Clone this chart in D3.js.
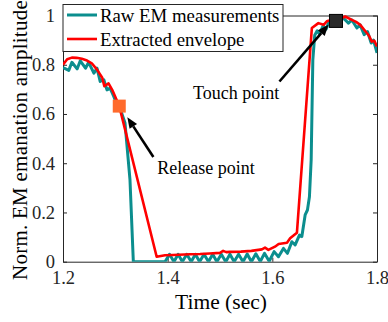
<!DOCTYPE html>
<html lang="en">
<head>
<meta charset="UTF-8">
<title>EM envelope</title>
<style>
    body { margin: 0; background: #fff; }
</style>
</head>
<body>
<svg id="chart" width="388" height="322"></svg>
<script src="https://cdn.jsdelivr.net/npm/d3@7"></script>
<script>
// raw EM measurements (time in sec, normalized amplitude)
const rawT = [1.200, 1.211, 1.217, 1.227, 1.233, 1.243, 1.249, 1.259, 1.265, 1.271, 1.278, 1.284, 1.290, 1.297, 1.300,
    1.3075, 1.3185, 1.328, 1.3344, 1.395,
    1.4035, 1.412, 1.420, 1.428, 1.4365, 1.445, 1.453, 1.461, 1.4695, 1.478, 1.486, 1.494, 1.5025, 1.511,
    1.519, 1.527, 1.5355, 1.544, 1.552, 1.560, 1.5685, 1.577, 1.585, 1.594,
    1.6034, 1.6117, 1.6212, 1.6289, 1.6373, 1.6436, 1.6518, 1.6564, 1.6627, 1.6671, 1.6709, 1.6742, 1.6774,
    1.681, 1.6857, 1.690, 1.697, 1.703, 1.708, 1.715, 1.722, 1.728, 1.736, 1.7455, 1.752, 1.7616, 1.7677,
    1.7755, 1.7818, 1.7889, 1.7933, 1.800];
const rawV = [0.788, 0.777, 0.810, 0.783, 0.816, 0.786, 0.810, 0.766, 0.786, 0.732, 0.739, 0.698, 0.705, 0.671, 0.655,
    0.632, 0.563, 0.332, 0.000, 0.000,
    0.030, 0.000, 0.030, 0.000, 0.030, 0.000, 0.030, 0.000, 0.030, 0.000, 0.030, 0.000, 0.030, 0.000,
    0.030, 0.000, 0.030, 0.000, 0.031, 0.000, 0.032, 0.001, 0.034, 0.002,
    0.041, 0.020, 0.054, 0.034, 0.081, 0.068, 0.108, 0.102, 0.190, 0.210, 0.264, 0.413, 0.820,
    0.920, 0.938, 0.925, 0.958, 0.945, 0.974, 0.965, 0.985, 0.975, 0.989, 0.969, 0.982, 0.949, 0.962,
    0.922, 0.935, 0.888, 0.900, 0.848];

// extracted envelope
const envT = [1.200, 1.208, 1.217, 1.226, 1.236, 1.246, 1.255, 1.265, 1.275, 1.279, 1.287, 1.294, 1.3075,
    1.379, 1.395, 1.410, 1.443, 1.462, 1.480, 1.500, 1.506, 1.512, 1.519, 1.540, 1.560, 1.580, 1.586, 1.5925,
    1.605, 1.612, 1.628, 1.634, 1.647, 1.6755, 1.688, 1.698, 1.705, 1.7216, 1.733, 1.739, 1.752, 1.760,
    1.768, 1.774, 1.781, 1.785, 1.790, 1.795, 1.800];
const envV = [0.800, 0.822, 0.829, 0.828, 0.824, 0.817, 0.806, 0.780, 0.747, 0.713, 0.724, 0.698, 0.632,
    0.020, 0.026, 0.027, 0.030, 0.031, 0.033, 0.036, 0.044, 0.039, 0.040, 0.041, 0.044, 0.050, 0.057, 0.048,
    0.061, 0.072, 0.077, 0.095, 0.118, 0.949, 0.969, 0.962, 0.978, 0.985, 0.990, 0.996, 0.982, 0.974,
    0.962, 0.946, 0.928, 0.917, 0.894, 0.897, 0.874];

const xTicks = [1.2, 1.4, 1.6, 1.8];
const yTicks = [0, 0.2, 0.4, 0.6, 0.8, 1];
const seriesNames = ["Raw EM measurements", "Extracted envelope"];
const seriesColors = ["#0b8e8e", "#ff0000"];

// markers: release / touch
const markT = [1.3075, 1.7216];
const markV = [0.632, 0.978];
const markColors = ["#ff6a2c", "#2a2a2a"];

// annotations: label, text anchor point, arrow tail, arrow tip
const noteText = ["Release point", "Touch point"];
const noteAt = [[1.3803, 0.355], [1.4486, 0.659]];
const arrowFrom = [[1.3727, 0.425], [1.6136, 0.732]];
const arrowTo = [[1.3229, 0.587], [1.7073, 0.962]];

const FONT = "Liberation Serif";
const svg = d3.select("#chart");
const pLeft = 63, pRight = 377, pTop = 15.5, pBottom = 261.7;

const x = d3.scaleLinear().domain([1.2, 1.8]).range([pLeft, pRight]);
const y = d3.scaleLinear().domain([0, 1]).range([pBottom, pTop]);

svg.append("defs").append("clipPath").attr("id", "clip")
    .append("rect").attr("x", pLeft).attr("y", pTop - 2).attr("width", pRight - pLeft).attr("height", pBottom - pTop + 2);

// axes, ticks inside, box on
function styleAxis(g) {
    g.attr("font-family", FONT).attr("font-size", 18.5);
    g.selectAll("path.domain").attr("stroke", "#262626").attr("stroke-width", 1);
    g.selectAll(".tick line").attr("stroke", "#262626").attr("stroke-width", 1);
    g.selectAll("text").attr("fill", "#262626");
}

svg.append("g").attr("transform", `translate(0,${pBottom})`)
    .call(d3.axisBottom(x).tickValues(xTicks).tickFormat(d3.format(".1f")).tickSize(-4).tickSizeOuter(0).tickPadding(9))
    .call(styleAxis);
svg.append("g").attr("transform", `translate(0,${pTop})`)
    .call(d3.axisTop(x).tickValues(xTicks).tickFormat("").tickSize(-4).tickSizeOuter(0))
    .call(styleAxis);
svg.append("g").attr("transform", `translate(${pLeft},0)`)
    .call(d3.axisLeft(y).tickValues(yTicks).tickFormat(d => d === 0 || d === 1 ? d : d3.format(".1f")(d)).tickSize(-4).tickSizeOuter(0).tickPadding(8))
    .call(styleAxis);
svg.append("g").attr("transform", `translate(${pRight},0)`)
    .call(d3.axisRight(y).tickValues(yTicks).tickFormat("").tickSize(-4).tickSizeOuter(0))
    .call(styleAxis);

// lines
const line = d3.line().x(d => x(d[0])).y(d => y(d[1]));
const plot = svg.append("g").attr("clip-path", "url(#clip)");

plot.append("path")
    .datum(d3.zip(rawT, rawV))
    .attr("d", line)
    .attr("fill", "none")
    .attr("stroke", seriesColors[0])
    .attr("stroke-width", 3)
    .attr("stroke-linejoin", "round");

plot.append("path")
    .datum(d3.zip(envT, envV))
    .attr("d", line)
    .attr("fill", "none")
    .attr("stroke", seriesColors[1])
    .attr("stroke-width", 2.6)
    .attr("stroke-linejoin", "round");

// square markers
svg.selectAll("rect.mark")
    .data(d3.zip(markT, markV, markColors))
    .enter().append("rect")
    .attr("class", "mark")
    .attr("x", d => x(d[0]) - 6.5)
    .attr("y", d => y(d[1]) - 6.5)
    .attr("width", 13)
    .attr("height", 13)
    .attr("fill", d => d[2])
    .attr("stroke", (d, i) => i === 1 ? "#000" : "none")
    .attr("stroke-width", 1);

// arrows
arrowFrom.forEach((a, i) => {
    const x1 = x(a[0]), y1 = y(a[1]), x2 = x(arrowTo[i][0]), y2 = y(arrowTo[i][1]);
    const ang = Math.atan2(y2 - y1, x2 - x1);
    const len = 11, half = 4.5;
    const bx = x2 - len * Math.cos(ang), by = y2 - len * Math.sin(ang);
    svg.append("line")
        .attr("x1", x1).attr("y1", y1).attr("x2", bx).attr("y2", by)
        .attr("stroke", "#000").attr("stroke-width", 2.6);
    svg.append("path")
        .attr("d", `M${x2},${y2}L${bx + half * Math.sin(ang)},${by - half * Math.cos(ang)}L${bx - half * Math.sin(ang)},${by + half * Math.cos(ang)}Z`)
        .attr("fill", "#000");
    svg.append("text")
        .attr("x", x(noteAt[i][0]))
        .attr("y", y(noteAt[i][1]))
        .attr("font-family", FONT)
        .attr("font-size", 18)
        .attr("fill", "#000")
        .text(noteText[i]);
});

// legend
const lg = svg.append("g");
lg.append("rect")
    .attr("x", 63).attr("y", 4.5).attr("width", 220).attr("height", 47)
    .attr("fill", "#fff").attr("stroke", "#262626").attr("stroke-width", 1);
seriesNames.forEach((name, i) => {
    const ly = 15 + i * 24;
    lg.append("line")
        .attr("x1", 67).attr("x2", 97).attr("y1", ly).attr("y2", ly)
        .attr("stroke", seriesColors[i]).attr("stroke-width", i === 0 ? 3 : 2.6);
    lg.append("text")
        .attr("x", 100).attr("y", ly + 6.5)
        .attr("font-family", FONT)
        .attr("font-size", 18.8)
        .attr("fill", "#000")
        .text(name);
});

// axis labels
svg.append("text")
    .attr("x", (pLeft + pRight) / 2 + 1)
    .attr("y", 308.5)
    .attr("text-anchor", "middle")
    .attr("font-family", FONT)
    .attr("font-size", 21.5)
    .attr("fill", "#000")
    .text("Time (sec)");

svg.append("text")
    .attr("transform", `translate(27,140) rotate(-90)`)
    .attr("text-anchor", "middle")
    .attr("font-family", FONT)
    .attr("font-size", 21)
    .attr("letter-spacing", 0.25)
    .attr("fill", "#000")
    .text("Norm. EM emanation amplitude");
</script>
</body>
</html>
